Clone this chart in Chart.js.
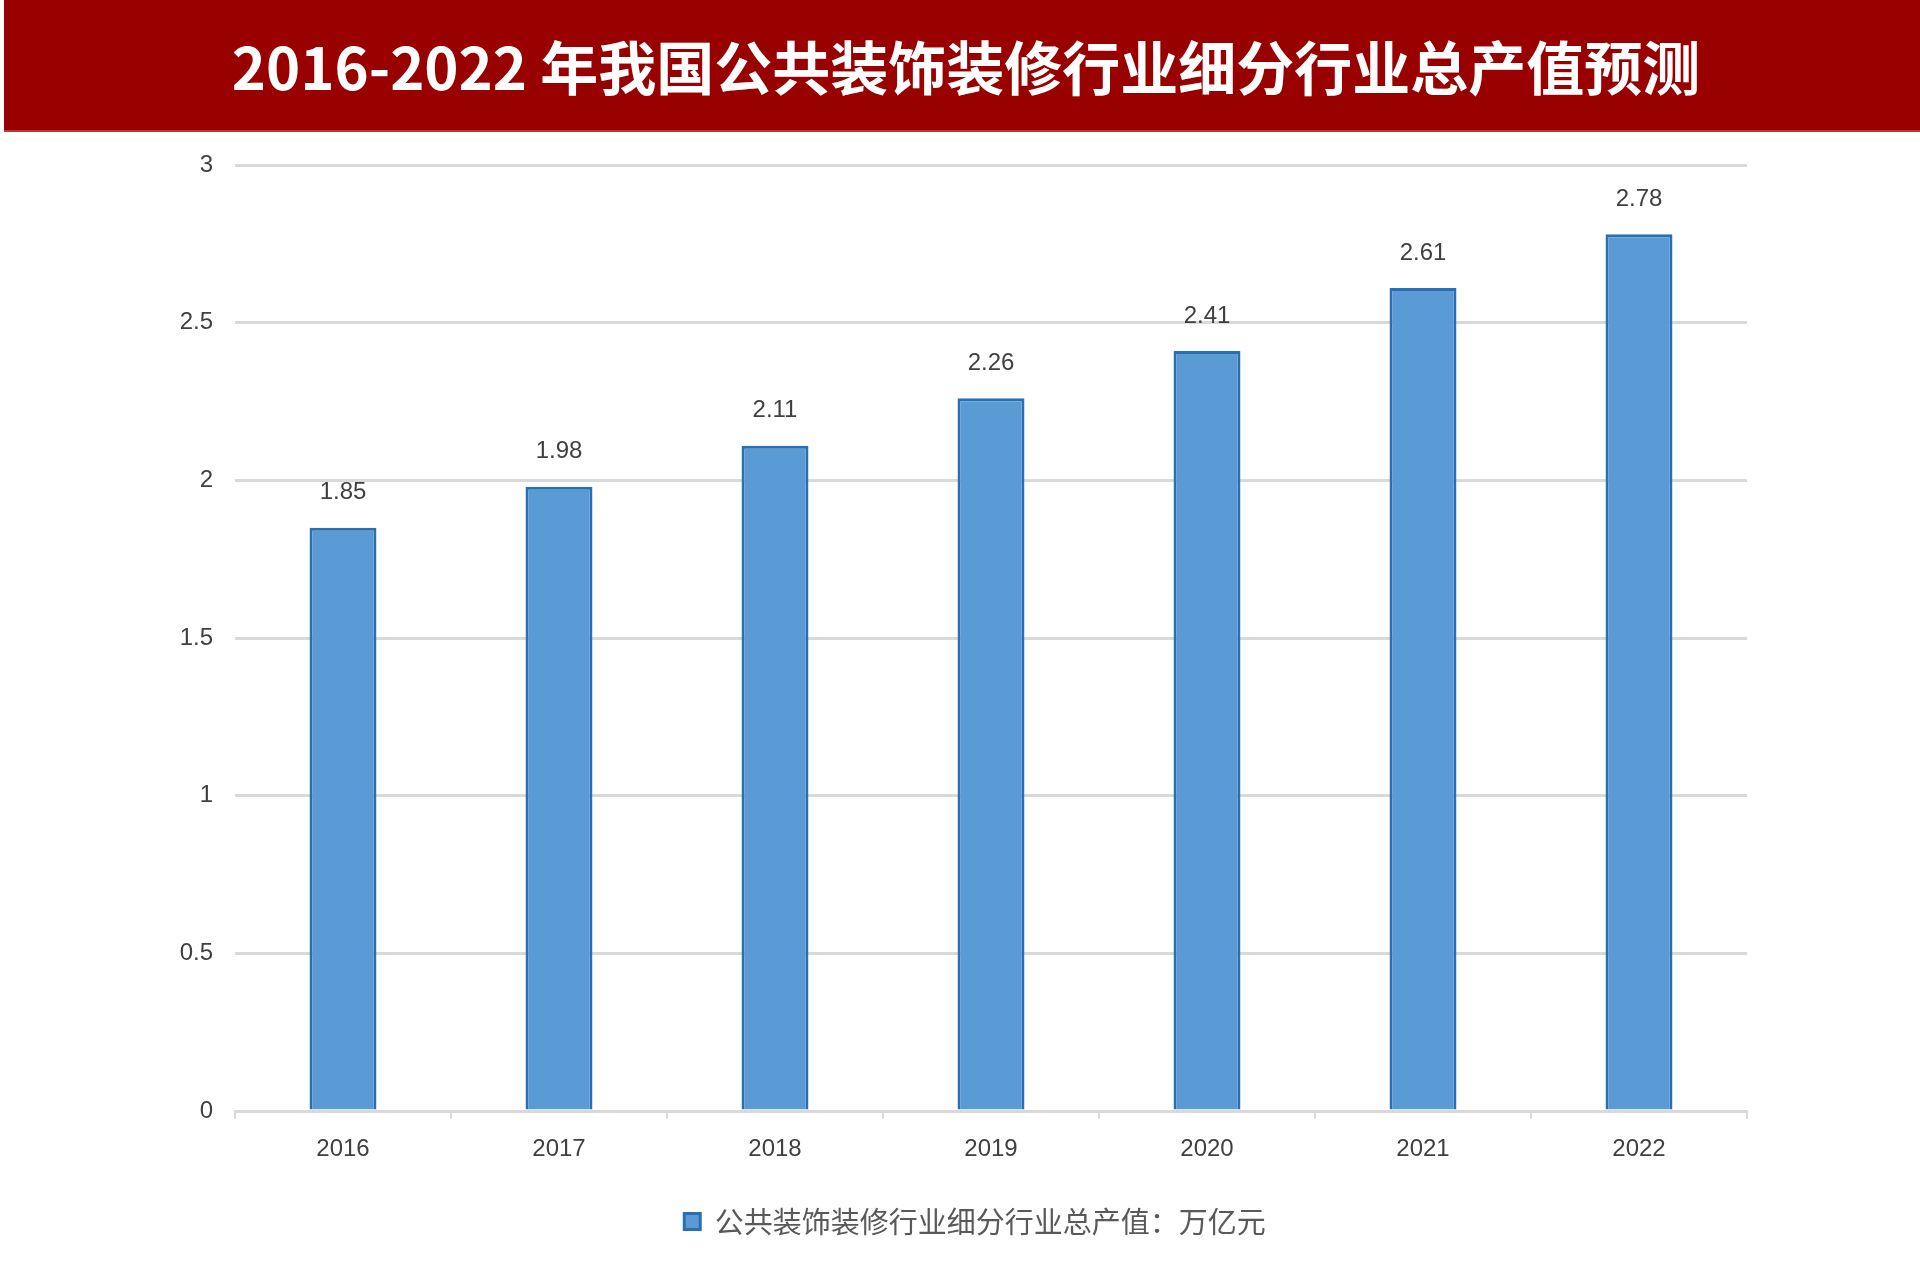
<!DOCTYPE html>
<html>
<head>
<meta charset="utf-8">
<script src="https://cdn.jsdelivr.net/npm/chart.js@4.4.1/dist/chart.umd.min.js"></script>
<style>
  html, body { margin: 0; padding: 0; background: #ffffff; }
  body { width: 1920px; height: 1277px; position: relative; overflow: hidden; }
  #title {
    position: absolute; left: 4px; top: 0; width: 1916px; height: 132px;
    background: #990000; color: #ffffff;
    font-family: "Noto Sans CJK SC", sans-serif; font-weight: bold; font-size: 58px;
    display: flex; align-items: center; justify-content: center;
    box-sizing: border-box; padding-left: 8px; z-index: 2;
    border-bottom: 2px solid #b53a3a;
  }
  #wrap { position: absolute; left: 0; top: 0; width: 1920px; height: 1277px; }
</style>
</head>
<body>
<div id="title">2016-2022 年我国公共装饰装修行业细分行业总产值预测</div>
<div id="wrap"><canvas id="c" width="1920" height="1277"></canvas></div>
<script>
const categories = ["2016", "2017", "2018", "2019", "2020", "2021", "2022"];
const seriesName = "公共装饰装修行业细分行业总产值：万亿元";
const values = [1.85, 1.98, 2.11, 2.26, 2.41, 2.61, 2.78];
const yTickValues = [0, 0.5, 1, 1.5, 2, 2.5, 3];

const valueLabels = {
  id: 'valueLabels',
  afterDatasetsDraw(chart) {
    const ctx = chart.ctx;
    const meta = chart.getDatasetMeta(0);
    ctx.save();
    ctx.font = '24px "Liberation Sans", Arial, sans-serif';
    ctx.fillStyle = '#404040';
    ctx.textAlign = 'center';
    ctx.textBaseline = 'middle';
    meta.data.forEach((bar, i) => {
      ctx.fillText(chart.data.datasets[0].data[i].toFixed(2), bar.x, bar.y - 35);
    });
    ctx.restore();
  }
};

new Chart(document.getElementById('c'), {
  type: 'bar',
  data: {
    labels: categories,
    datasets: [{
      label: seriesName,
      data: values,
      backgroundColor: '#5b9bd5',
      borderColor: '#2a6fb0',
      borderWidth: 3,
      barPercentage: 0.62,
      categoryPercentage: 0.5
    }]
  },
  options: {
    responsive: false,
    animation: false,
    devicePixelRatio: 1,
    layout: { padding: { left: 30, right: 0, top: 165, bottom: 31 } },
    plugins: {
      legend: {
        display: true,
        position: 'bottom',
        labels: {
          color: '#595959',
          font: { family: '"Noto Sans CJK SC", sans-serif', size: 29 },
          boxWidth: 16, boxHeight: 16, padding: 14
        }
      },
      tooltip: { enabled: false }
    },
    scales: {
      x: {
        offset: true,
        grid: { display: true, drawOnChartArea: false, offset: true, color: '#d9d9d9', lineWidth: 2, tickLength: 8 },
        border: { display: true, color: '#d9d9d9', width: 3 },
        ticks: { color: '#404040', font: { family: '"Liberation Sans", Arial, sans-serif', size: 24 }, padding: 16 },
        afterFit(scale) { scale.height = 82; }
      },
      y: {
        min: 0, max: 3,
        afterBuildTicks(scale) { scale.ticks = yTickValues.map(v => ({ value: v })); },
        grid: { color: '#d9d9d9', lineWidth: 3, drawTicks: false },
        border: { display: false },
        ticks: {
          color: '#404040', padding: 22,
          font: { family: '"Liberation Sans", Arial, sans-serif', size: 24 },
          callback: (v) => String(v)
        },
        afterFit(scale) { scale.width = 205; }
      },
      yRight: {
        position: 'right',
        min: 0, max: 3,
        grid: { display: false, drawTicks: false },
        border: { display: false },
        ticks: { display: false },
        afterFit(scale) { scale.width = 173; }
      }
    }
  },
  plugins: [valueLabels]
});
</script>
</body>
</html>
